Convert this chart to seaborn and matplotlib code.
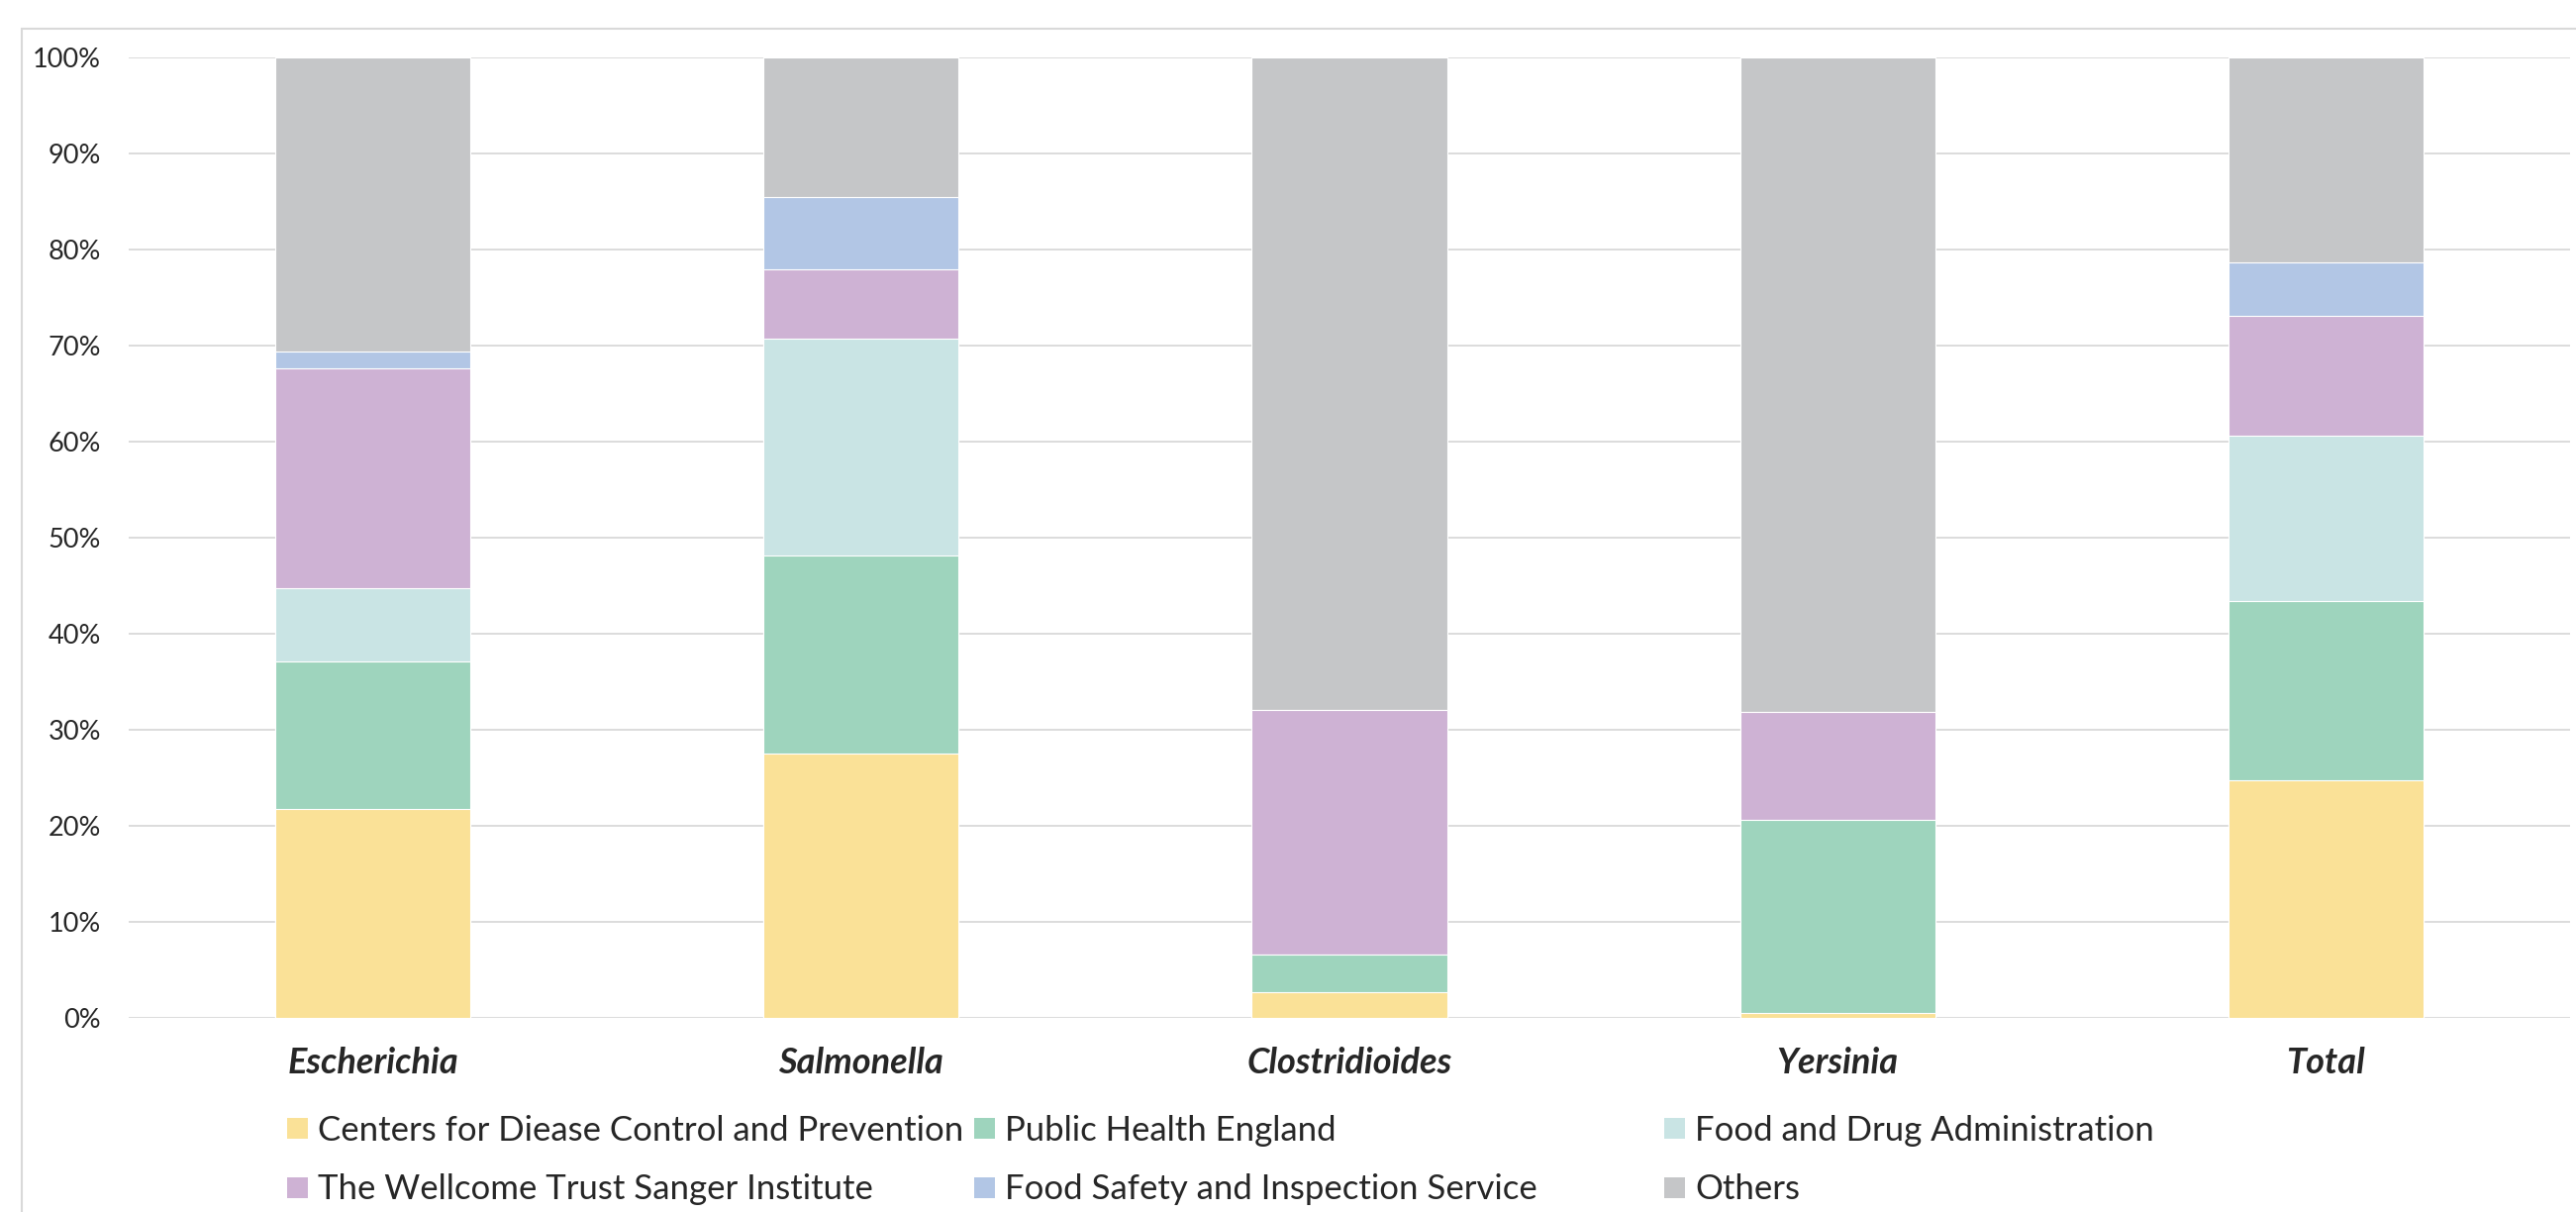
import numpy as np
import pandas as pd
import matplotlib
matplotlib.use("Agg")
import matplotlib.pyplot as plt
import seaborn as sns
from matplotlib.patches import Patch, Rectangle
from matplotlib.ticker import PercentFormatter

# ---- data (fractions of each genus) ----
categories = ["Escherichia", "Salmonella", "Clostridioides", "Yersinia", "Total"]
series_names = [
    "Centers for Diease Control and Prevention",
    "Public Health England",
    "Food and Drug Administration",
    "The Wellcome Trust Sanger Institute",
    "Food Safety and Inspection Service",
    "Others",
]
cdc = [0.218, 0.275, 0.027, 0.005, 0.248]
phe = [0.153, 0.207, 0.039, 0.201, 0.186]
fda = [0.077, 0.225, 0.000, 0.000, 0.172]
sanger = [0.228, 0.073, 0.255, 0.113, 0.125]
fsis = [0.018, 0.075, 0.000, 0.000, 0.056]
others = [0.306, 0.145, 0.679, 0.681, 0.213]
y_ticks = [0.0, 0.1, 0.2, 0.3, 0.4, 0.5, 0.6, 0.7, 0.8, 0.9, 1.0]

colors = ["#FAE197", "#9ED4BD", "#C9E4E4", "#CEB2D4", "#B2C6E5", "#C5C6C8"]
text_color = "#262626"

sns.set_theme(style="white")
plt.rcParams["font.family"] = ["Lato", "DejaVu Sans"]

W, H = 2602, 1224
fig = plt.figure(figsize=(W / 100, H / 100), dpi=100)
ax = fig.add_axes([130 / W, 1 - 1028 / H, (2596 - 130) / W, (1028 - 58.3) / H])

values = np.array([cdc, phe, fda, sanger, fsis, others])
cum = np.cumsum(values, axis=0)
for i in reversed(range(len(series_names))):
    df = pd.DataFrame({"genus": categories, "share": cum[i]})
    sns.barplot(data=df, x="genus", y="share", order=categories, color=colors[i],
                saturation=1, width=0.4, ax=ax, edgecolor="white", linewidth=0.8)

ax.set_xlim(-0.5, len(categories) - 0.5)
ax.set_ylim(0, 1.0)
ax.set_yticks(y_ticks)
ax.yaxis.set_major_formatter(PercentFormatter(1.0, decimals=0))
ax.yaxis.grid(True, color="#D9D9D9", linewidth=1.3)
ax.xaxis.grid(False)
ax.set_axisbelow(True)
for s in ax.spines.values():
    s.set_visible(False)
ax.set_xlabel("")
ax.set_ylabel("")
ax.tick_params(axis="y", length=0, pad=20, labelsize=19.5, labelcolor=text_color)
ax.tick_params(axis="x", length=0, pad=21, labelsize=26, labelcolor=text_color)
for lab in ax.get_xticklabels():
    lab.set_fontweight("bold")
    lab.set_fontstyle("italic")

# chart area border
fig.add_artist(Rectangle((22 / W, -0.1), 2.0, 1 - 29 / H + 0.1, transform=fig.transFigure,
                         facecolor="none", edgecolor="#D9D9D9", linewidth=1.5))

# legend in three equal-width columns
col_x = [290 / W, 984 / W, 1681 / W]
y_mid = 1 - 1171.5 / H
for c in range(3):
    handles = [Patch(facecolor=colors[c], edgecolor="none", label=series_names[c]),
               Patch(facecolor=colors[c + 3], edgecolor="none", label=series_names[c + 3])]
    fig.legend(handles=handles, loc="center left", bbox_to_anchor=(col_x[c], y_mid),
               bbox_transform=fig.transFigure, frameon=False, borderpad=0,
               borderaxespad=0, fontsize=25, handlelength=0.6, handleheight=0.55,
               handletextpad=0.3, labelspacing=0.8, labelcolor=text_color)

fig.savefig("out.png", dpi=100, facecolor="white")
